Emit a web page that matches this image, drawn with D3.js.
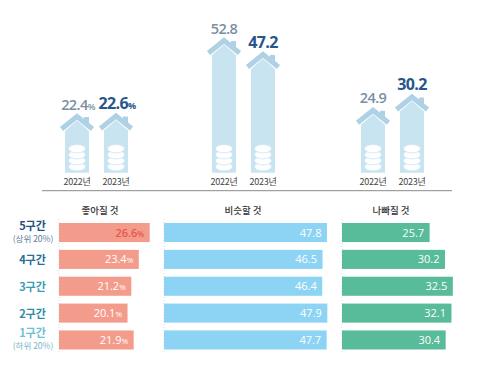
<!DOCTYPE html>
<html>
<head>
<meta charset="utf-8">
<script src="https://cdn.jsdelivr.net/npm/d3@7"></script>
<style>
  html, body { margin: 0; background: #fff; }
  text { font-family: "Noto Sans CJK KR", "Noto Sans", sans-serif; }
  .num { font-family: "Open Sans", "Noto Sans", sans-serif; }
</style>
</head>
<body>
<svg id="chart" width="500" height="369"></svg>
<script>
const years = ['2022년', '2023년']
const groupValues = [[22.4, 22.6], [52.8, 47.2], [24.9, 30.2]]
const groupUnits = ['%', '', '']
const houseLeft = [65, 104, 212, 251, 361, 400]

const rows = ['5구간', '4구간', '3구간', '2구간', '1구간']
const rowNotes = ['(상위 20%)', '', '', '', '(하위 20%)']
const rowColors = ['#23527e', '#2a6d96', '#3b9bb5', '#2f8e9f', '#6cc0cf']
const noteColors = ['#5a7d99', '', '', '', '#7db5c4']

const panelTitles = ['좋아질 것', '비슷할 것', '나빠질 것']
const panelStart = [59, 164, 342]
const panelColors = ['#f49c8c', '#8dd3f4', '#58bb9a']
const panelUnits = ['%', '', '']
const panelValues = [
    [26.6, 23.4, 21.2, 20.1, 21.9],
    [47.8, 46.5, 46.4, 47.9, 47.7],
    [25.7, 30.2, 32.5, 32.1, 30.4]
]

const svg = d3.select('#chart')

const baseY = 172.7
const houseY = d3.scaleLinear().domain([0, 52.8]).range([170, 38])
const barW = d3.scaleLinear().domain([0, 26.6]).range([0, 90.7])
const rowY = d3.scaleBand().domain(rows).range([223, 349.5]).paddingInner(0.29)

const houses = groupValues.flatMap((vals, g) =>
    vals.map((v, i) => ({v, i, unit: groupUnits[g], x: houseLeft[g * 2 + i]})))

const drawHouse = (sel) => {
    const bw = 24
    sel.each(function (d) {
        const g = d3.select(this)
        const top = houseY(d.v)
        const cx = d.x + bw / 2

        // body with pointed top
        g.append('path')
            .attr('fill', '#c9e4f1')
            .attr('d', `M${d.x},${baseY}V${top + 17}L${cx},${top + 6.5}L${d.x + bw},${top + 17}V${baseY}Z`)

        // chimney, then roof
        g.append('rect')
            .attr('x', cx + 7).attr('y', top + 3)
            .attr('width', 5).attr('height', 8)
            .attr('fill', '#aed1e6')
        g.append('path')
            .attr('fill', 'none')
            .attr('stroke', '#aed1e6')
            .attr('stroke-width', 5)
            .attr('d', `M${cx - 15.5},${top + 15}L${cx},${top + 2.5}L${cx + 15.5},${top + 15}`)

        // coin stack
        const coins = d3.range(4)
        g.selectAll('ellipse')
            .data(coins)
            .enter()
            .append('ellipse')
            .attr('cx', cx)
            .attr('cy', c => baseY - 6 - c * 6)
            .attr('rx', 8.6)
            .attr('ry', 4.2)
            .attr('fill', '#fff')
            .attr('stroke', '#c9e4f1')
            .attr('stroke-width', 0.8)

        // value on top
        const label = g.append('text')
            .attr('class', 'num')
            .attr('x', cx + (d.unit ? 1 : 0))
            .attr('y', top - 4.5)
            .attr('text-anchor', 'middle')
            .attr('fill', d.i ? '#28568c' : '#7a8fa3')
            .attr('font-size', d.i ? 16 : 14.5)
            .attr('font-weight', d.i ? 700 : 600)
            .attr('letter-spacing', -0.6)
            .text(d.v.toFixed(1))
        if (d.unit) {
            label.append('tspan').attr('font-size', 9).text(d.unit)
        }

        g.append('text')
            .attr('x', cx)
            .attr('y', 184.5)
            .attr('text-anchor', 'middle')
            .attr('fill', '#444')
            .attr('font-size', 9)
            .attr('letter-spacing', -0.3)
            .text(years[d.i])
    })
}

svg.append('g').selectAll('g')
    .data(houses)
    .enter()
    .append('g')
    .call(drawHouse)

svg.append('line')
    .attr('x1', 42).attr('x2', 452)
    .attr('y1', 190.7).attr('y2', 190.7)
    .attr('stroke', '#8a8a8a')
    .attr('stroke-width', 1)

// row labels
const rowLabels = svg.append('g').selectAll('g')
    .data(rows)
    .enter()
    .append('g')

rowLabels.append('text')
    .attr('x', 32.5)
    .attr('y', (d, i) => rowY(d) + (rowNotes[i] ? 7 : 14))
    .attr('text-anchor', 'middle')
    .attr('font-size', 11)
    .attr('font-weight', 700)
    .attr('fill', (d, i) => rowColors[i])
    .text(d => d)

rowLabels.append('text')
    .attr('x', 33)
    .attr('y', (d, i) => rowY(d) + 19)
    .attr('text-anchor', 'middle')
    .attr('font-size', 8.5)
    .attr('fill', (d, i) => noteColors[i])
    .text((d, i) => rowNotes[i])

// bar panels
panelTitles.forEach((title, p) => {
    const g = svg.append('g')
    const x0 = panelStart[p]

    g.append('line')
        .attr('x1', x0).attr('x2', x0)
        .attr('y1', 219).attr('y2', 352)
        .attr('stroke', '#d5dde2')
        .attr('stroke-dasharray', '1 2')

    g.selectAll('rect')
        .data(panelValues[p])
        .enter()
        .append('rect')
        .attr('x', x0)
        .attr('y', (d, i) => rowY(rows[i]))
        .attr('width', d => barW(d))
        .attr('height', rowY.bandwidth())
        .attr('fill', panelColors[p])

    const labels = g.selectAll('text.val')
        .data(panelValues[p])
        .enter()
        .append('text')
        .attr('class', 'val num')
        .attr('x', d => x0 + barW(d) - 5.5)
        .attr('y', (d, i) => rowY(rows[i]) + rowY.bandwidth() / 2 + 4)
        .attr('text-anchor', 'end')
        .attr('font-size', 11)
        .attr('fill', (d, i) => (p === 0 && i === 0) ? '#e8564c' : '#fff')
        .attr('font-weight', (d, i) => (p === 0 && i === 0) ? 600 : 400)
        .text(d => d.toFixed(1))
    if (panelUnits[p]) {
        labels.append('tspan').attr('font-size', 8).text(panelUnits[p])
    }

    g.append('text')
        .attr('x', [100, 243, 391][p])
        .attr('y', 214)
        .attr('text-anchor', 'middle')
        .attr('font-size', 9.5)
        .attr('font-weight', 500)
        .attr('fill', '#333')
        .text(title)
})
</script>
</body>
</html>
